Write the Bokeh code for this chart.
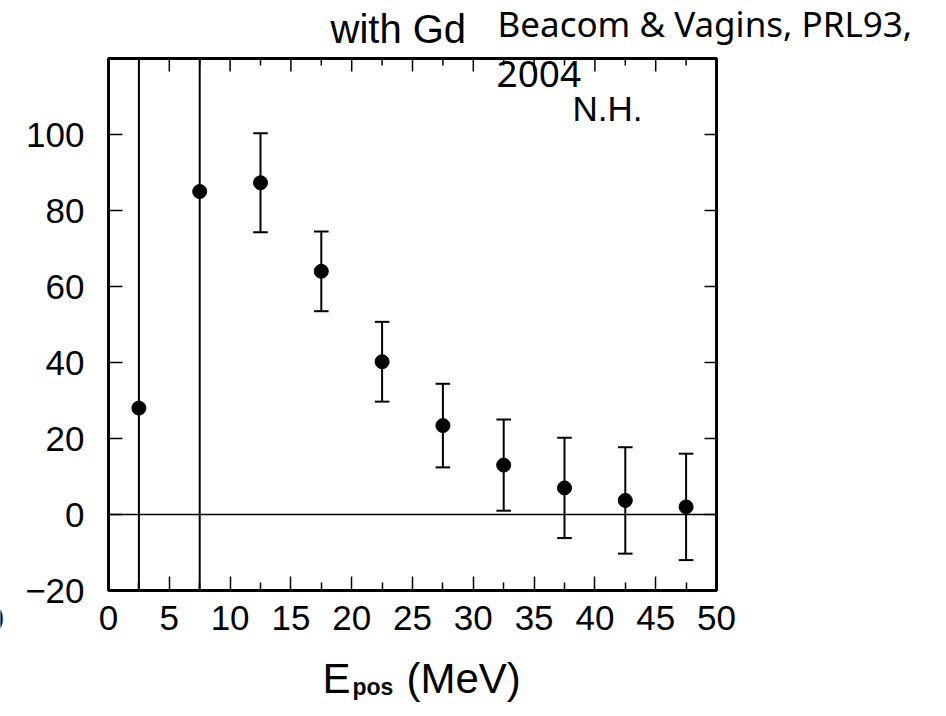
import math
from bokeh.plotting import figure
from bokeh.models import Range1d, FixedTicker, Label, LinearAxis, BoxAnnotation
from bokeh.embed import file_html
from bokeh.resources import INLINE

# ---- data ----
energy = [2.5, 7.5, 12.5, 17.5, 22.5, 27.5, 32.5, 37.5, 42.5, 47.5]
counts = [28.0, 85.0, 87.3, 64.0, 40.2, 23.4, 13.0, 7.0, 3.7, 2.0]
errors = [150.0, 150.0, 13.0, 10.5, 10.5, 11.0, 12.0, 13.2, 14.0, 14.0]

x_major = [0, 5, 10, 15, 20, 25, 30, 35, 40, 45, 50]
x_minor = [2.5, 7.5, 12.5, 17.5, 22.5, 27.5, 32.5, 37.5, 42.5, 47.5]
y_major = [-20, 0, 20, 40, 60, 80, 100]
x_min, x_max = 0, 50
y_min, y_max = -20, 120

# ---- layout (pixels) ----
W, H = 946, 716
L, R, T, B = 108, 230, 58, 126          # margins around the drawn box
sx = (W - L - R) / (x_max - x_min)
sy = (H - T - B) / (y_max - y_min)
TICK_FONT = "Liberation Sans"

p = figure(width=W, height=H, output_backend="svg", toolbar_location=None,
           x_range=Range1d(x_min - L / sx, x_max + R / sx),
           y_range=Range1d(y_min - B / sy, y_max + T / sy),
           x_axis_location=None, y_axis_location=None,
           min_border=0, min_border_left=0, min_border_right=0,
           min_border_top=0, min_border_bottom=0)
p.grid.visible = False
p.outline_line_color = None
p.background_fill_color = "white"
p.border_fill_color = "white"

xt = FixedTicker(ticks=x_major, minor_ticks=x_minor)
yt = FixedTicker(ticks=y_major, minor_ticks=[])

def style(ax, ticker, tin, mtin):
    ax.ticker = ticker
    ax.axis_line_color = None
    ax.major_tick_in = tin
    ax.major_tick_out = 0
    ax.minor_tick_in = mtin
    ax.minor_tick_out = 0
    ax.major_tick_line_color = "black"
    ax.major_tick_line_width = 1.5
    ax.minor_tick_line_color = "black"
    ax.minor_tick_line_width = 1.5
    ax.major_label_text_font = TICK_FONT
    ax.major_label_text_font_size = "35px"
    ax.major_label_text_color = "black"

xaxis = LinearAxis(fixed_location=y_min, bounds=(x_min, x_max))
style(xaxis, xt, 14, 8)
xaxis.major_label_standoff = 15
p.add_layout(xaxis, "below")

yaxis = LinearAxis(fixed_location=x_min, bounds=(y_min, y_max))
style(yaxis, yt, 14, 0)
yaxis.major_label_standoff = 24
yaxis.major_label_overrides = {-20: "\u221220"}
p.add_layout(yaxis, "left")

# frame box
p.add_layout(BoxAnnotation(left=x_min, right=x_max, bottom=y_min, top=y_max,
                           fill_color=None, fill_alpha=0, line_color="black",
                           line_alpha=1.0, line_width=3, level="overlay"))

# mirrored ticks on top and right (screen-length rays)
p.ray(x=x_major, y=[y_max] * len(x_major), length=13, angle=-math.pi / 2,
      length_units="screen", line_color="black", line_width=1.5)
p.ray(x=x_minor, y=[y_max] * len(x_minor), length=7, angle=-math.pi / 2,
      length_units="screen", line_color="black", line_width=1.5)
p.ray(x=[x_max] * len(y_major), y=y_major, length=12, angle=math.pi,
      length_units="screen", line_color="black", line_width=1.5)

# zero line
p.segment(x0=[x_min], y0=[0], x1=[x_max], y1=[0], line_color="black", line_width=1.5)

# error bars (clipped to the box)
lo = [max(c - e, y_min) for c, e in zip(counts, errors)]
hi = [min(c + e, y_max) for c, e in zip(counts, errors)]
p.segment(x0=energy, y0=lo, x1=energy, y1=hi, line_color="black", line_width=2)
cap = 0.6
cx, chi = zip(*[(x, c + e) for x, c, e in zip(energy, counts, errors) if c + e < y_max])
p.segment(x0=[x - cap for x in cx], y0=list(chi), x1=[x + cap for x in cx], y1=list(chi),
          line_color="black", line_width=2)
cx, clo = zip(*[(x, c - e) for x, c, e in zip(energy, counts, errors) if c - e > y_min])
p.segment(x0=[x - cap for x in cx], y0=list(clo), x1=[x + cap for x in cx], y1=list(clo),
          line_color="black", line_width=2)
p.scatter(energy, counts, size=14, marker="circle", fill_color="black", line_color="black")

BASE_FIX = 14  # renderer puts the alphabetic baseline this much lower

def lab(text, x, y_base, size, font=TICK_FONT, style_="normal"):
    # x, y_base in canvas pixels from the top-left
    p.add_layout(Label(x=x, y=H - (y_base - BASE_FIX), x_units="screen", y_units="screen",
                       text=text, text_font=font, text_font_size=size,
                       text_font_style=style_, text_color="black",
                       text_align="left", text_baseline="alphabetic", level="overlay"))

lab("with Gd", 330, 42, "40px")
lab("Beacom & Vagins, PRL93,", 497, 37, "35px", font="Noto Sans")
lab("2004", 496, 87, "37px", font="Noto Sans")
lab("N.H.", 572, 122, "35px")
lab("0", -16, 632, "35px")
# axis title
lab("E", 322, 692, "42px")
lab("pos", 352, 700, "23px", style_="bold")
lab("(MeV)", 406, 692, "42px")

open("out.html", "w").write(file_html(p, INLINE))
